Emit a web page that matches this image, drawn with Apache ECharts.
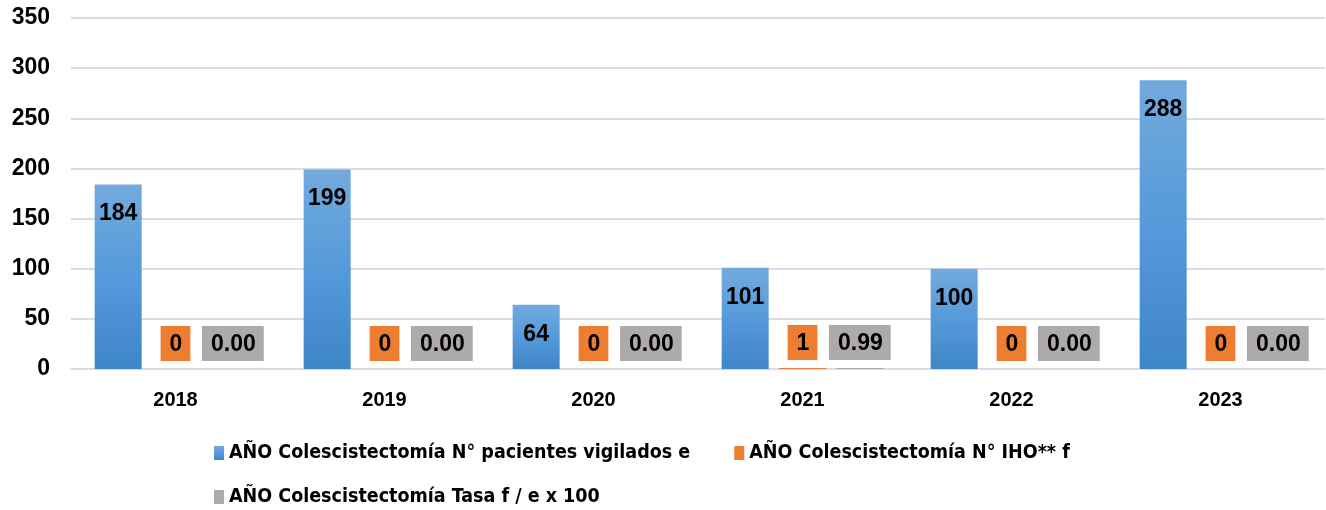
<!DOCTYPE html>
<html>
<head>
<meta charset="utf-8">
<script src="https://cdn.jsdelivr.net/npm/echarts@6/dist/echarts.min.js"></script>
<style>
  html, body { margin: 0; padding: 0; background: #fff; }
  #chart { width: 1326px; height: 510px; }
</style>
</head>
<body>
<div id="chart"></div>
<script>
// datos
const years = ['2018', '2019', '2020', '2021', '2022', '2023']
const vigilados = [184, 199, 64, 101, 100, 288]
const iho = [0, 0, 0, 1, 0, 0]
const tasa = [0.00, 0.00, 0.00, 0.99, 0.00, 0.00]
const seriesNames = [
  'AÑO Colescistectomía N° pacientes vigilados e',
  'AÑO Colescistectomía N° IHO** f',
  'AÑO Colescistectomía Tasa f / e x 100'
]

const chart = echarts.init(document.getElementById('chart'))
const numFont = "'Liberation Sans', Arial, sans-serif"
const legFont = "'Liberation Sans Narrow', 'DejaVu Sans Condensed', sans-serif"

// etiqueta con caja de color para las series pequeñas
function boxLabel(bg, decimals) {
  return {
    show: true,
    position: 'top',
    distance: 8,
    backgroundColor: bg,
    padding: [7, 8, 5, 9],
    color: '#000',
    fontFamily: numFont,
    fontWeight: 'bold',
    fontSize: 23,
    formatter: p => p.value.toFixed(decimals)
  }
}

const legendText = { fontFamily: legFont, fontWeight: 'bold', fontSize: 19.5, color: '#000' }

const option = {
  animation: false,
  grid: { left: 71, right: 1, top: 18, bottom: 141 },
  legend: [
    {
      left: 209,
      top: 438,
      icon: 'rect',
      itemWidth: 10,
      itemHeight: 14,
      itemGap: 44,
      textStyle: legendText,
      data: [seriesNames[0], seriesNames[1]]
    },
    {
      left: 209,
      top: 482,
      icon: 'rect',
      itemWidth: 10,
      itemHeight: 14,
      textStyle: legendText,
      data: [seriesNames[2]]
    }
  ],
  xAxis: {
    type: 'category',
    data: years,
    axisLine: { lineStyle: { color: '#d9dde3', width: 2 } },
    axisTick: { show: false },
    axisLabel: { margin: 21, color: '#000', fontFamily: numFont, fontWeight: 'bold', fontSize: 20 }
  },
  yAxis: {
    type: 'value',
    min: 0,
    max: 350,
    interval: 50,
    axisLabel: { margin: 21, color: '#000', fontFamily: numFont, fontWeight: 'bold', fontSize: 23 },
    splitLine: { lineStyle: { color: '#d9dde3', width: 2 } }
  },
  series: [
    {
      name: seriesNames[0],
      type: 'bar',
      data: vigilados,
      barWidth: 47,
      barGap: '22%',
      itemStyle: {
        color: new echarts.graphic.LinearGradient(0, 0, 0, 1, [
          { offset: 0, color: '#73aadd' },
          { offset: 0.5, color: '#559ada' },
          { offset: 1, color: '#3f86c6' }
        ])
      },
      label: {
        show: true,
        position: 'insideTop',
        distance: 18,
        color: '#000',
        fontFamily: numFont,
        fontWeight: 'bold',
        fontSize: 23
      }
    },
    {
      name: seriesNames[1],
      type: 'bar',
      data: iho,
      barWidth: 47,
      itemStyle: { color: '#ed7d31' },
      label: boxLabel('#ed7d31', 0)
    },
    {
      name: seriesNames[2],
      type: 'bar',
      data: tasa,
      barWidth: 47,
      itemStyle: { color: '#aeaaaa' },
      label: boxLabel('#aeaaaa', 2)
    }
  ]
}

option && chart.setOption(option)
</script>
</body>
</html>
